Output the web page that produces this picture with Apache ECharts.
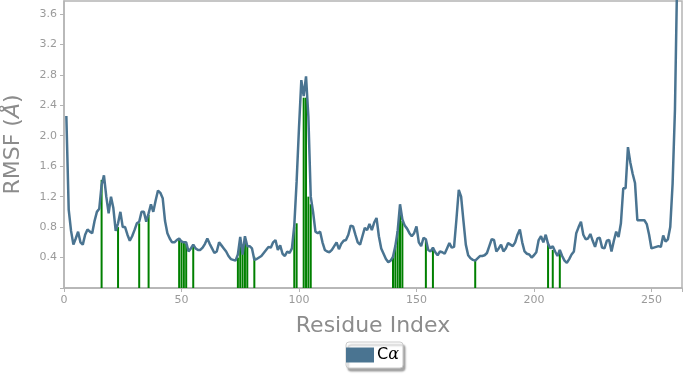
<!DOCTYPE html>
<html><head><meta charset="utf-8">
<script src="https://cdn.jsdelivr.net/npm/echarts@6/dist/echarts.min.js"></script>
<style>html,body{margin:0;padding:0;background:#fff}#c{width:685px;height:375px}</style>
</head><body><div id="c"></div>
<script>
// RMSF per residue, starting at residue 1
const firstResidue = 1;
const rmsf = [
 2.26,1.03,0.75,0.57,0.65,0.74,0.60,0.57,0.70,0.77,
 0.74,0.72,0.88,1.00,1.04,1.35,1.48,1.20,0.98,1.20,
 1.05,0.75,0.85,1.00,0.80,0.80,0.70,0.62,0.68,0.76,
 0.85,0.87,1.00,1.00,0.87,0.98,1.10,1.00,1.15,1.28,
 1.25,1.18,0.88,0.72,0.65,0.60,0.60,0.63,0.65,0.61,
 0.60,0.60,0.48,0.52,0.57,0.52,0.50,0.50,0.53,0.58,
 0.65,0.58,0.52,0.46,0.48,0.60,0.56,0.52,0.48,0.42,
 0.38,0.37,0.36,0.44,0.67,0.44,0.68,0.55,0.55,0.52,
 0.37,0.38,0.40,0.42,0.46,0.50,0.54,0.53,0.60,0.63,
 0.50,0.56,0.45,0.42,0.48,0.46,0.52,0.82,1.40,2.10,
 2.73,2.52,2.78,2.25,1.20,1.00,0.74,0.72,0.74,0.60,
 0.50,0.48,0.47,0.50,0.55,0.60,0.51,0.58,0.62,0.63,
 0.70,0.82,0.81,0.70,0.60,0.57,0.68,0.79,0.76,0.84,
 0.76,0.86,0.92,0.68,0.52,0.45,0.38,0.34,0.36,0.41,
 0.55,0.75,1.10,0.90,0.82,0.78,0.72,0.68,0.72,0.81,
 0.60,0.55,0.66,0.64,0.50,0.48,0.53,0.47,0.43,0.48,
 0.47,0.45,0.52,0.59,0.53,0.54,0.90,1.29,1.20,0.88,
 0.57,0.43,0.39,0.37,0.36,0.39,0.42,0.42,0.43,0.46,
 0.55,0.64,0.63,0.48,0.52,0.57,0.48,0.52,0.59,0.57,
 0.55,0.60,0.70,0.77,0.60,0.48,0.45,0.44,0.40,0.43,
 0.47,0.63,0.68,0.60,0.70,0.58,0.52,0.55,0.48,0.42,
 0.50,0.42,0.36,0.33,0.38,0.44,0.48,0.72,0.80,0.87,
 0.70,0.64,0.65,0.71,0.62,0.54,0.65,0.66,0.53,0.52,
 0.62,0.63,0.48,0.62,0.74,0.67,0.85,1.31,1.31,1.85,
 1.65,1.50,1.38,0.89,0.89,0.89,0.89,0.84,0.70,0.52,
 0.53,0.54,0.55,0.54,0.69,0.61,0.64,0.80,1.37,2.34,
 4.20
];
// highlighted residues (green sticks) and their heights
const markResidues = [16,23,32,36,49,50,51,52,55,74,75,76,77,78,81,98,99,102,103,104,105,140,141,142,143,144,154,157,175,206,208,211];
const markHeights  = [1.42,0.80,0.85,0.96,0.63,0.62,0.60,0.58,0.57,0.40,0.63,0.57,0.66,0.55,0.41,0.80,0.85,2.50,2.50,1.20,1.10,0.40,0.55,0.75,1.00,0.88,0.63,0.53,0.36,0.59,0.50,0.50];
const xTicks = [0,50,100,150,200,250];
const yTicks = [0.4,0.8,1.2,1.6,2.0,2.4,2.8,3.2,3.6];
const seriesName = 'Cα';

const lineData = rmsf.map((v,i)=>[firstResidue+i, v]);
const barData = markResidues.map((r,i)=>[r, markHeights[i]]);

const chart = echarts.init(document.getElementById('c'), null, {renderer:'canvas'});
const gray = '#9a9a9a';
const nameStyle = {fontFamily:'DejaVu Sans',fontSize:22,color:'#8c8c8c'};
chart.setOption({
  animation:false,
  grid:{left:64,right:3,top:1,bottom:87,containLabel:false,outerBoundsMode:'none',
    show:true,borderColor:'#b4b4b4',borderWidth:1.5,backgroundColor:'#fff'},
  xAxis:{type:'value',min:0,max:263,interval:50,
    name:'Residue Index',nameLocation:'middle',nameGap:27,
    nameTextStyle:nameStyle,
    axisLine:{show:true,lineStyle:{color:'#b4b4b4',width:1.5}},
    axisTick:{show:true,length:4,lineStyle:{color:'#b4b4b4'}},
    axisLabel:{color:gray,fontFamily:'DejaVu Sans',fontSize:11,margin:7,
      formatter:v=>xTicks.includes(v)?String(v):''},
    splitLine:{show:false}},
  yAxis:{type:'value',min:0,max:3.77,interval:0.4,
    name:'RMSF ({i|Å})',nameLocation:'middle',nameGap:40,nameRotate:90,
    nameTextStyle:Object.assign({},nameStyle,{rich:{i:{fontFamily:'DejaVu Sans',fontSize:22,fontStyle:'italic',color:'#8c8c8c'}}}),
    axisLine:{show:true,lineStyle:{color:'#b4b4b4',width:1.5}},
    axisTick:{show:true,length:4,lineStyle:{color:'#b4b4b4'}},
    axisLabel:{color:gray,fontFamily:'DejaVu Sans',fontSize:11,margin:7,showMaxLabel:false,
      formatter:v=>{const t=yTicks.find(y=>Math.abs(y-v)<1e-6);return t!==undefined?t.toFixed(1):'';}},
    splitLine:{show:false}},
  legend:{data:[{name:seriesName,icon:'rect'}],left:346,top:342,
    itemWidth:28,itemHeight:15,itemGap:0,padding:[5,4,5,0],
    backgroundColor:'#fff',borderColor:'#cccccc',borderWidth:1,borderRadius:3,
    shadowColor:'rgba(0,0,0,0.35)',shadowBlur:2,shadowOffsetX:2,shadowOffsetY:3,
    formatter:n=>'{c|C}{a|α}',
    textStyle:{fontFamily:'DejaVu Sans',fontSize:16,color:'#000',padding:[0,0,0,-2],
      rich:{c:{fontFamily:'DejaVu Sans',fontSize:16,color:'#000'},a:{fontFamily:'DejaVu Serif',fontStyle:'italic',fontSize:16,color:'#000'}}}},
  series:[
    {type:'bar',name:'sticks',data:barData,barWidth:2,itemStyle:{color:'#008000'},z:1,silent:true},
    {type:'line',name:seriesName,data:lineData,showSymbol:false,symbol:'none',
      lineStyle:{color:'#4a7491',width:2.5},itemStyle:{color:'#4a7491'},z:3,clip:true}
  ]
});
</script></body></html>
